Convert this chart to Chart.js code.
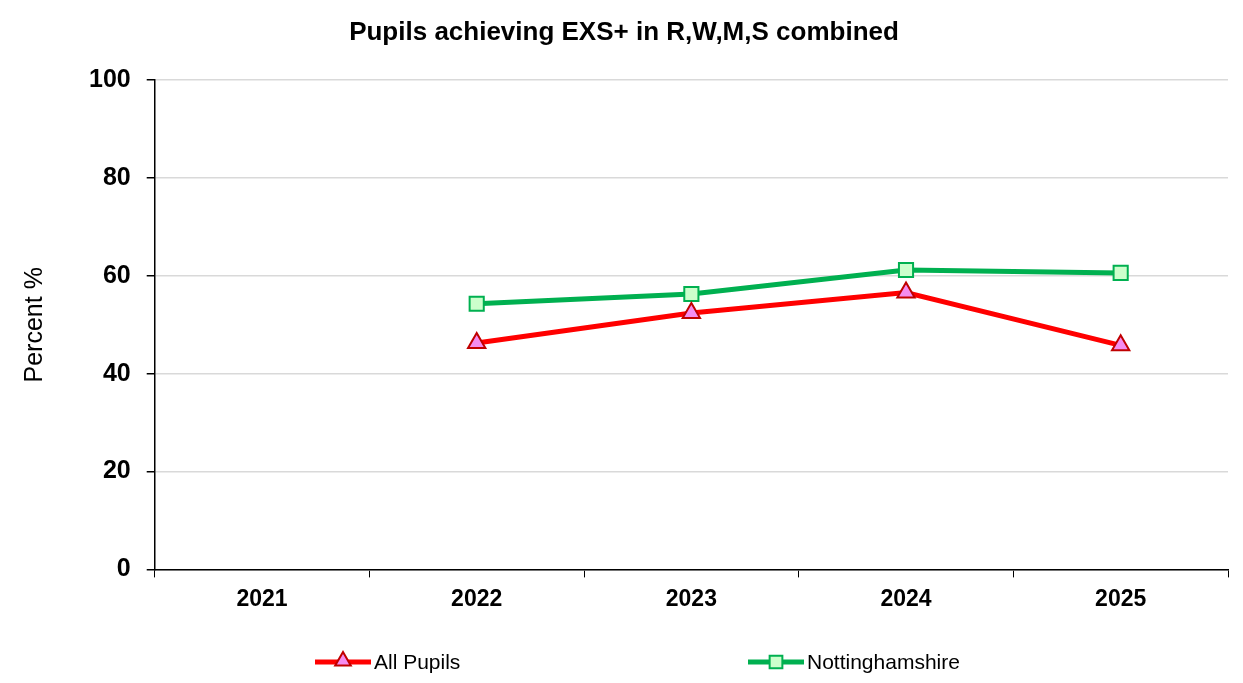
<!DOCTYPE html>
<html>
<head>
<meta charset="utf-8">
<script src="https://cdn.jsdelivr.net/npm/chart.js@4/dist/chart.umd.min.js"></script>
<style>
  html, body { margin: 0; padding: 0; background: #fff; }
  #wrap { width: 1243px; height: 683px; }
</style>
</head>
<body>
<div id="wrap"><canvas id="myChart"></canvas></div>
<script>
// Data
let years = ['2021', '2022', '2023', '2024', '2025'];
let allPupils = [null, 46.3, 52.4, 56.6, 45.8];
let notts = [null, 54.3, 56.3, 61.2, 60.6];
let yTicks = [0, 20, 40, 60, 80, 100];

Chart.defaults.font.family = 'Arial, "Liberation Sans", sans-serif';
Chart.defaults.color = '#000';

// Excel-like legend drawn under the chart, items spread out
let bottomLegend = {
    id: 'bottomLegend',
    afterDraw(chart) {
        let ctx = chart.ctx;
        let y = chart.height - 21;
        let starts = [315, 748];
        chart.data.datasets.forEach((ds, i) => {
            let x = starts[i];
            ctx.save();
            ctx.strokeStyle = ds.borderColor;
            ctx.lineWidth = ds.borderWidth;
            ctx.beginPath();
            ctx.moveTo(x, y);
            ctx.lineTo(x + 56, y);
            ctx.stroke();
            ctx.fillStyle = ds.pointBackgroundColor;
            ctx.strokeStyle = ds.pointBorderColor;
            ctx.lineWidth = ds.pointBorderWidth;
            Chart.helpers.drawPoint(ctx, {
                pointStyle: ds.pointStyle,
                radius: ds.pointRadius - 1,
                borderWidth: ds.pointBorderWidth,
                rotation: 0
            }, x + 28, ds.pointStyle === 'triangle' ? y - 1 : y);
            ctx.fillStyle = '#000';
            ctx.font = '21px Arial, "Liberation Sans", sans-serif';
            ctx.textBaseline = 'middle';
            ctx.fillText(ds.label, x + 59, y + 1);
            ctx.restore();
        });
    }
};

let myChart = document.getElementById('myChart').getContext('2d');

let pupilsChart = new Chart(myChart, {
    type: 'line',
    data: {
        labels: years,
        datasets: [{
            label: 'All Pupils',
            data: allPupils,
            borderColor: '#ff0000',
            borderWidth: 5,
            pointStyle: 'triangle',
            pointRadius: 10,
            pointBackgroundColor: '#f58cf0',
            pointBorderColor: '#c00000',
            pointBorderWidth: 2,
            tension: 0
        }, {
            label: 'Nottinghamshire',
            data: notts,
            borderColor: '#00b050',
            borderWidth: 5,
            pointStyle: 'rect',
            pointRadius: 10,
            pointBackgroundColor: '#ccffcc',
            pointBorderColor: '#00b050',
            pointBorderWidth: 2,
            tension: 0
        }]
    },
    options: {
        responsive: true,
        maintainAspectRatio: false,
        animation: false,
        layout: {
            padding: { left: 20, right: 15, top: 0, bottom: 62 }
        },
        plugins: {
            title: {
                display: true,
                text: 'Pupils achieving EXS+ in R,W,M,S combined',
                font: { size: 26, weight: 'bold' },
                color: '#000',
                padding: { top: 17, bottom: 32 }
            },
            legend: { display: false },
            tooltip: { enabled: false }
        },
        scales: {
            x: {
                offset: true,
                grid: {
                    offset: true,
                    drawOnChartArea: false,
                    drawTicks: true,
                    tickLength: 8,
                    tickColor: '#000'
                },
                border: { color: '#000', width: 1.5 },
                ticks: {
                    font: { size: 23, weight: 'bold' },
                    color: '#000',
                    padding: 8
                }
            },
            y: {
                min: 0,
                max: 100,
                afterBuildTicks(axis) {
                    axis.ticks = yTicks.map(v => ({ value: v }));
                },
                grid: {
                    color: '#d9d9d9',
                    lineWidth: 1.5,
                    tickLength: 8,
                    tickColor: '#000'
                },
                border: { color: '#000', width: 1.5 },
                ticks: {
                    font: { size: 25, weight: 'bold' },
                    color: '#000',
                    padding: 16
                },
                title: {
                    display: true,
                    text: 'Percent %',
                    font: { size: 25 },
                    color: '#000',
                    padding: { top: 0, bottom: 23 }
                }
            }
        }
    },
    plugins: [bottomLegend]
});
</script>
</body>
</html>
